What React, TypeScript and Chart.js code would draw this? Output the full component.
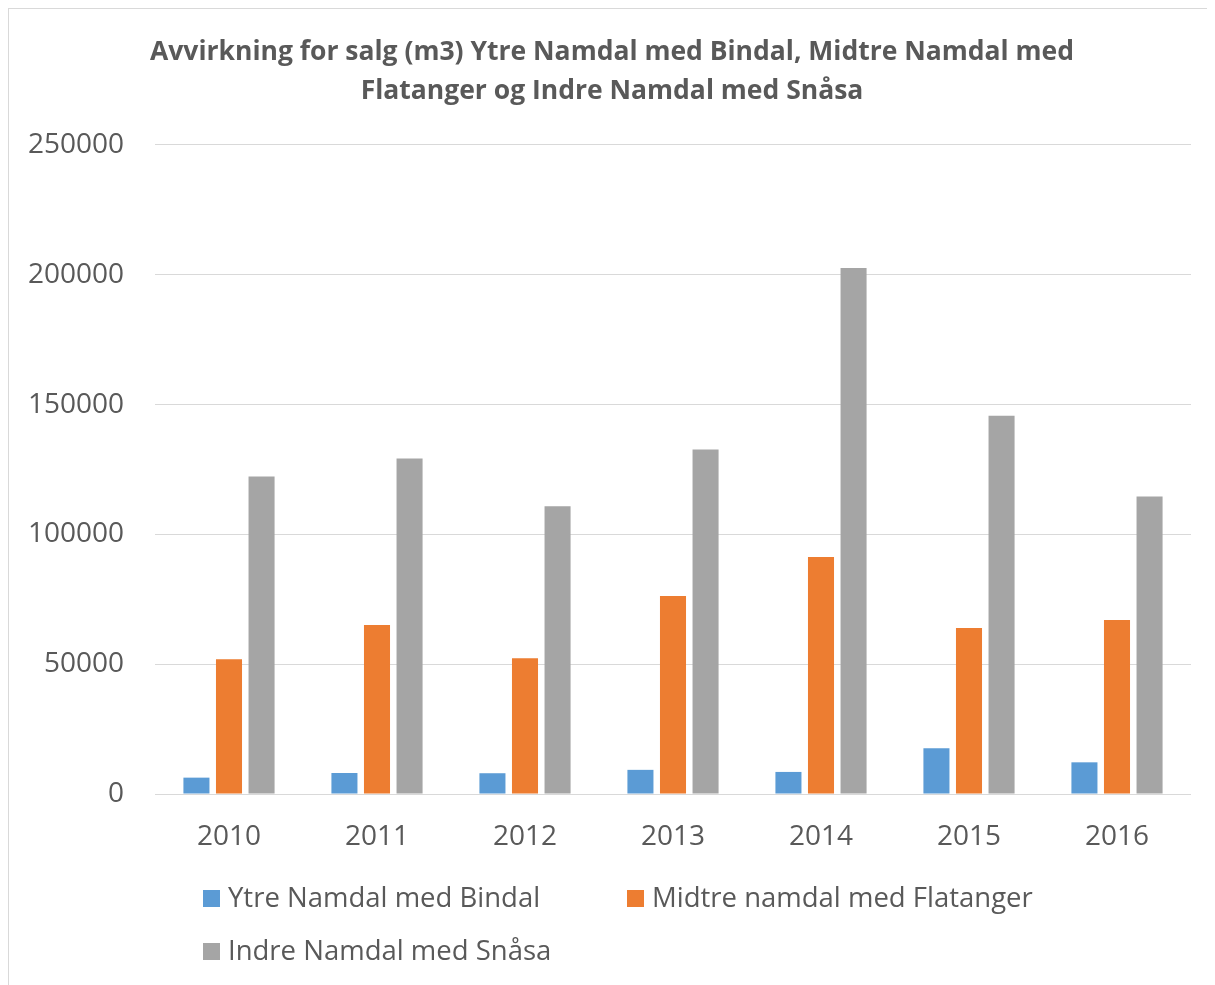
import React, { useEffect, useRef } from "react";
import { Chart, registerables } from "chart.js";

Chart.register(...registerables);

const years = ["2010", "2011", "2012", "2013", "2014", "2015", "2016"];
const ytreNamdal = [6300, 8100, 8000, 9300, 8500, 17600, 12200];
const midtreNamdal = [51900, 65100, 52300, 76300, 91300, 63900, 67000];
const indreNamdal = [122300, 129200, 110800, 132700, 202600, 145700, 114600];
const seriesLabels = ["Ytre Namdal med Bindal", "Midtre namdal med Flatanger", "Indre Namdal med Snåsa"];
const seriesColors = ["#5B9BD5", "#ED7D31", "#A5A5A5"];
const titleLines = [
  "Avvirkning for salg (m3) Ytre Namdal med Bindal, Midtre Namdal med",
  "Flatanger og Indre Namdal med Snåsa",
];

const FONT = "'Open Sans', 'DejaVu Sans', sans-serif";
const TEXT = "#595959";

const legendPlugin = {
  id: "excelLegend",
  afterDraw(chart: any) {
    const ctx = chart.ctx;
    const slots = [
      { x: 194, y: 889 },
      { x: 618, y: 889 },
      { x: 194, y: 942 },
    ];
    ctx.save();
    ctx.font = `27.5px ${FONT}`;
    ctx.textBaseline = "middle";
    ctx.textAlign = "left";
    chart.data.datasets.forEach((ds: any, i: number) => {
      const s = slots[i];
      ctx.fillStyle = ds.backgroundColor;
      ctx.fillRect(s.x, s.y - 8, 17, 17);
      ctx.fillStyle = TEXT;
      ctx.fillText(ds.label, s.x + 25, s.y + 1);
    });
    ctx.restore();
  },
};

export default function App() {
  const ref = useRef<HTMLCanvasElement>(null);
  useEffect(() => {
    if (!ref.current) return;
    const chart = new Chart(ref.current, {
      type: "bar",
      data: {
        labels: years,
        datasets: [
          { label: seriesLabels[0], data: ytreNamdal, backgroundColor: seriesColors[0] },
          { label: seriesLabels[1], data: midtreNamdal, backgroundColor: seriesColors[1] },
          { label: seriesLabels[2], data: indreNamdal, backgroundColor: seriesColors[2] },
        ],
      },
      options: {
        animation: false,
        responsive: false,
        datasets: { bar: { categoryPercentage: 0.66, barPercentage: 0.8 } },
        layout: { padding: { left: 0, right: 0, top: 0, bottom: 121 } },
        plugins: {
          legend: { display: false },
          tooltip: { enabled: false },
          title: {
            display: true,
            text: titleLines,
            color: TEXT,
            font: { family: FONT, size: 26.5, weight: "bold", lineHeight: 1.47 },
            padding: { top: 24, bottom: 34 },
          },
        },
        scales: {
          x: {
            grid: { display: false },
            border: { display: false },
            ticks: { color: TEXT, font: { family: FONT, size: 28 }, padding: 18 },
            afterFit: (s: any) => { s.height = 70; },
          },
          y: {
            min: 0,
            max: 250000,
            grid: { color: "#D9D9D9", lineWidth: 1, drawTicks: false },
            border: { display: false },
            ticks: {
              stepSize: 50000,
              color: TEXT,
              font: { family: FONT, size: 28 },
              padding: 31,
              callback: (v: any) => String(v),
            },
            afterFit: (s: any) => { s.width = 146; },
          },
          spacer: {
            position: "right",
            grid: { display: false },
            border: { display: false },
            ticks: { display: false },
            afterFit: (s: any) => { s.width = 24; },
          },
        },
      },
      plugins: [legendPlugin],
    });
    return () => chart.destroy();
  }, []);
  return (
    <div style={{ width: 1207, height: 977, borderTop: "1px solid #D9D9D9", borderLeft: "1px solid #D9D9D9", boxSizing: "border-box", background: "#fff" }}>
      <canvas ref={ref} width={1206} height={976} style={{ display: "block" }} />
    </div>
  );
}
